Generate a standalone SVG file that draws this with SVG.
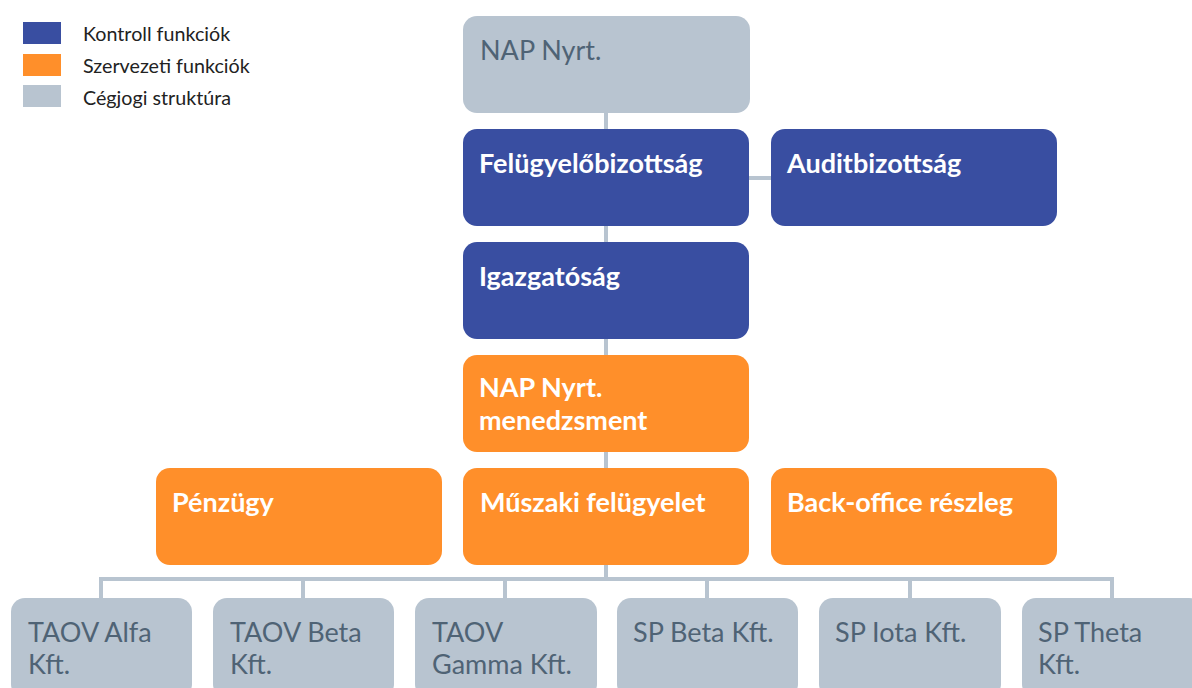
<svg xmlns="http://www.w3.org/2000/svg" width="1192" height="688" viewBox="0 0 1192 688">
<style>
.blue{fill:#394EA1}
.orange{fill:#FF8F2A}
.gray{fill:#B8C4D0}
.lbl{font-family:Lato,"Open Sans","Liberation Sans",sans-serif;font-size:27px;font-weight:bold;fill:#ffffff}
.glbl{font-family:Lato,"Open Sans","Liberation Sans",sans-serif;font-size:27px;fill:#4F6375}
.leg{font-family:Lato,"Open Sans","Liberation Sans",sans-serif;font-size:19.7px;fill:#222222}
.conn{stroke:#B8C4D0;stroke-width:4;fill:none}
</style>
<rect width="1192" height="688" fill="#ffffff"/>
<g id="legend">
<rect class="blue" x="23" y="22" width="38" height="22"/>
<rect class="orange" x="23" y="54" width="38" height="22"/>
<rect class="gray" x="23" y="85" width="38" height="22"/>
<text class="leg" x="83" y="41">Kontroll funkciók</text>
<text class="leg" x="83" y="73">Szervezeti funkciók</text>
<text class="leg" x="83" y="105">Cégjogi struktúra</text>
</g>
<g id="connectors">
<line class="conn" x1="606" y1="113" x2="606" y2="579"/>
<line class="conn" x1="749" y1="178" x2="771" y2="178"/>
<polyline class="conn" points="101,600 101,579 1112,579 1112,600"/>
<line class="conn" x1="303" y1="579" x2="303" y2="600"/>
<line class="conn" x1="505" y1="579" x2="505" y2="600"/>
<line class="conn" x1="707" y1="579" x2="707" y2="600"/>
<line class="conn" x1="910" y1="579" x2="910" y2="600"/>
</g>
<g id="nap-nyrt"><rect class="gray" x="463" y="16" width="287" height="97" rx="14"/><text class="glbl" x="480" y="60">NAP Nyrt.</text></g>
<g id="felugyelobizottsag"><rect class="blue" x="463" y="129" width="286" height="97" rx="14"/><text class="lbl" x="479" y="173">Felügyelőbizottság</text></g>
<g id="auditbizottsag"><rect class="blue" x="771" y="129" width="286" height="97" rx="14"/><text class="lbl" x="787" y="173">Auditbizottság</text></g>
<g id="igazgatosag"><rect class="blue" x="463" y="242" width="286" height="97" rx="14"/><text class="lbl" x="479" y="286">Igazgatóság</text></g>
<g id="menedzsment"><rect class="orange" x="463" y="355" width="286" height="97" rx="14"/><text class="lbl" x="479" y="397">NAP Nyrt.</text><text class="lbl" x="479" y="430">menedzsment</text></g>
<g id="penzugy"><rect class="orange" x="156" y="468" width="286" height="97" rx="14"/><text class="lbl" x="172" y="512">Pénzügy</text></g>
<g id="muszaki"><rect class="orange" x="463" y="468" width="286" height="97" rx="14"/><text class="lbl" x="480" y="512">Műszaki felügyelet</text></g>
<g id="backoffice"><rect class="orange" x="771" y="468" width="286" height="97" rx="14"/><text class="lbl" x="787" y="512">Back-office részleg</text></g>
<g id="taov-alfa"><rect class="gray" x="11" y="598" width="181" height="100" rx="14"/><text class="glbl" x="28" y="642">TAOV Alfa</text><text class="glbl" x="28" y="674">Kft.</text></g>
<g id="taov-beta"><rect class="gray" x="213" y="598" width="181" height="100" rx="14"/><text class="glbl" x="230" y="642">TAOV Beta</text><text class="glbl" x="230" y="674">Kft.</text></g>
<g id="taov-gamma"><rect class="gray" x="415" y="598" width="182" height="100" rx="14"/><text class="glbl" x="432" y="642">TAOV</text><text class="glbl" x="432" y="674">Gamma Kft.</text></g>
<g id="sp-beta"><rect class="gray" x="617" y="598" width="181" height="100" rx="14"/><text class="glbl" x="633" y="642">SP Beta Kft.</text></g>
<g id="sp-iota"><rect class="gray" x="819" y="598" width="182" height="100" rx="14"/><text class="glbl" x="835" y="642">SP Iota Kft.</text></g>
<g id="sp-theta"><rect class="gray" x="1022" y="598" width="181" height="100" rx="14"/><text class="glbl" x="1038" y="642">SP Theta</text><text class="glbl" x="1038" y="674">Kft.</text></g>
</svg>
